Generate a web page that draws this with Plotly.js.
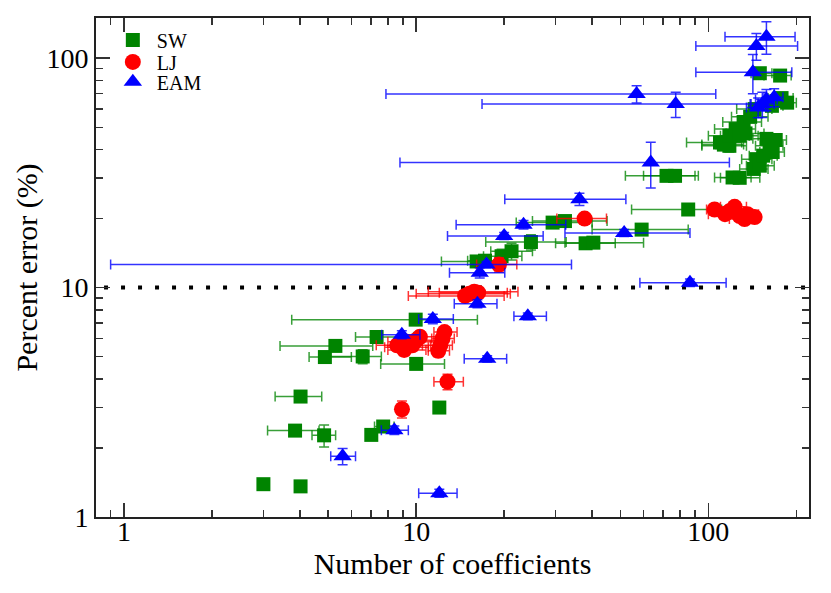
<!DOCTYPE html>
<html>
<head>
<meta charset="utf-8">
<script src="https://cdn.plot.ly/plotly-3.0.1.min.js"></script>
<style>
  html, body { margin: 0; padding: 0; background: #fff; }
  #chart { width: 831px; height: 593px; }
</style>
</head>
<body>
<div id="chart"></div>
<script>
// SW (Stillinger-Weber) points: x, y, x-range low/high, y half error
const swX   = [3.0, 4.02, 3.85, 4.84, 7.02, 7.71, 4.02, 12.0, 4.87, 6.56, 5.29, 7.32, 10.0, 9.96, 16.1, 17.2, 19.6, 21.2, 24.7, 29.3, 32.3, 38.0, 40.4, 59.1, 85.3, 71.9, 76.9, 109.6, 118, 121, 128, 113, 118, 124, 132, 139, 144, 128, 134, 143, 146, 150, 154, 158, 162, 166, 170, 171, 178, 186, 176, 150, 165];
const swY   = [1.39, 1.36, 2.38, 2.27, 2.28, 2.48, 3.35, 3.0, 4.98, 5.01, 5.57, 6.09, 4.65, 7.25, 13.0, 13.1, 13.7, 14.4, 15.8, 19.2, 19.5, 15.6, 15.7, 17.9, 21.9, 30.7, 30.7, 42.9, 41.5, 30.2, 30.1, 42, 45.9, 49.1, 52.7, 55.5, 60, 45.9, 47, 32.9, 36.3, 34, 37.6, 44.5, 41.5, 39, 44, 65, 67, 64, 84, 86, 62];
const swXlo = [null, null, 3.1, 4.4, null, 7.2, 3.29, null, 4.3, 5.0, 3.42, 6.2, 7.56, 3.75, 12.2, 15.0, 17.0, 18.0, 17.3, 22.0, 25.0, 30.0, 32.3, 40.0, 54.6, 52.0, 60, 84.2, 95, 105, 110, 95, 100, 105, 112, 120, 125, 110, 115, 128, 130, 135, 138, 142, 145, 150, 152, 155, 160, 168, 155, 140, 150];
const swXhi = [null, null, 4.65, 5.3, null, 8.4, 4.75, null, 6.0, 7.6, 7.1, 9.8, 12.5, 16.2, 19.0, 20.0, 23.0, 25.0, 32.6, 40.0, 45.0, 48.0, 60.0, 85.3, 111, 92.4, 90, 130, 135, 140, 150, 132, 138, 145, 152, 160, 165, 148, 155, 160, 165, 168, 172, 176, 180, 182, 185, 190, 195, 200, 192, 165, 180];
const swYerr = [0.05, 0.05, 0.1, 0.25, 0.08, 0.12, 0.08, 0.08, 0.12, 0.35, 0.15, 0.15, 0.15, 0.2, 0.6, 0.8, 1.0, 1.2, 1.2, 0.6, 0.6, 0.4, 0.4, 0.5, 0.6, 1.5, 1.0, 2.5, 2.5, 1.5, 1.5, 2, 2.5, 2.5, 3, 3, 3, 2.5, 2.5, 1.5, 1.8, 1.8, 2, 2.5, 2.5, 2, 2.5, 3, 3, 3, 3, 3, 3];

// LJ (Lennard-Jones) points
const ljX   = [8.94, 12.8, 8.6, 9.0, 9.3, 9.7, 10.0, 10.3, 9.1, 11.9, 12.1, 12.3, 12.5, 14.7, 15.2, 15.8, 16.3, 19.2, 37.7, 105, 114, 123, 133, 136, 144, 118, 128];
const ljY   = [2.95, 3.89, 5.6, 5.5, 5.8, 5.6, 5.9, 6.1, 5.35, 5.3, 5.6, 6.0, 6.4, 9.2, 9.4, 9.6, 9.5, 12.6, 20.0, 21.9, 20.9, 22.5, 19.9, 20.9, 20.3, 21.5, 20.5];
const ljXlo = [null, 11.5, 7.3, 7.8, 8.0, 8.3, 8.6, 9.0, 8.0, 11.0, 11.2, 11.3, 11.5, 9.4, 10.0, 11.0, 12.0, 16.1, 30.3, 98.6, 100, 110, 118, 122, 130, 104, 115];
const ljXhi = [null, 14.5, 10.5, 11.0, 11.5, 11.8, 12.0, 12.5, 10.8, 13.0, 13.3, 13.5, 13.8, 20.0, 21.0, 22.3, 20.5, 22.1, 44.8, 115, 128, 135, 145, 148.5, 148.5, 132, 140];
const ljYerr = [0.25, 0.3, 0.3, 0.3, 0.3, 0.3, 0.35, 0.35, 0.3, 0.3, 0.3, 0.35, 0.35, 0.3, 0.3, 0.3, 0.3, 0.9, 0.8, 0.6, 0.6, 0.6, 0.6, 0.6, 0.6, 0.6, 0.6];

// EAM (embedded atom) points
const eamX   = [12.0, 5.6, 8.42, 17.5, 8.93, 11.4, 24.1, 16.2, 16.5, 17.4, 20.0, 23.3, 36.2, 51.5, 86.5, 63.5, 56.8, 77.3, 142, 146, 158, 153, 158, 168, 148];
const eamY   = [1.27, 1.84, 2.39, 4.89, 6.23, 7.3, 7.5, 8.51, 11.6, 12.6, 16.8, 18.8, 24.3, 17.3, 10.5, 35.1, 69.8, 63.1, 86.9, 113, 124, 63.1, 66, 67.5, 61];
const eamXlo = [10.2, 5.1, 7.6, 14.6, 7.62, 10.2, 21.6, 13.5, 13.0, 0.90, 12.8, 13.7, 20.1, 32.3, 58.3, 8.8, 7.88, 16.8, 90.6, 90.6, 114, 140, 145, 155, 135];
const eamXhi = [13.8, 6.2, 9.4, 20.4, 10.3, 13.4, 27.9, 18.9, 20.1, 34.0, 27.2, 32.5, 52.2, 86.5, 115, 118, 106, 139, 193, 202, 198, 168, 172, 180, 160];
const eamYerr = [0.05, 0.15, 0.1, 0.15, 0.25, 0.35, 0.25, 0.35, 0.6, 0.4, 0.6, 0.8, 1.5, 0.6, 0.4, 7.9, 6, 8, 17, 15, 20, 8, 7, 6, 6];

const xTicks = [1, 10, 100];
const yTicks = [1, 10, 100];
const xMinor = [0.9, 2, 3, 4, 5, 6, 7, 8, 9, 20, 30, 40, 50, 60, 70, 80, 90, 200];
const yMinor = [2, 3, 4, 5, 6, 7, 8, 9, 20, 30, 40, 50, 60, 70, 80, 90];
const threshold = 10;

function errPlus(x, hi) {
    return x.map((v, i) => hi[i] == null ? NaN : hi[i] - v);
}
function errMinus(x, lo) {
    return x.map((v, i) => lo[i] == null ? NaN : v - lo[i]);
}

function makeTrace(name, legendId, x, y, lo, hi, yerr, color, barColor, symbol, size) {
    return {
        x: x, y: y, name: name, legend: legendId,
        type: "scatter", mode: "markers",
        marker: { color: color, symbol: symbol, size: size, line: { width: 0 } },
        error_x: { type: "data", symmetric: false, array: errPlus(x, hi), arrayminus: errMinus(x, lo),
                   color: barColor, thickness: 1.5, width: 5 },
        error_y: { type: "data", array: yerr, color: barColor, thickness: 1.5, width: 5 }
    };
}

const lineTrace = {
    x: [0.5, 400], y: [threshold, threshold],
    type: "scatter", mode: "lines", showlegend: false, hoverinfo: "skip",
    line: { color: "black", width: 4, dash: "4px,13px" }
};

const traces = [
    lineTrace,
    makeTrace("SW", "legend", swX, swY, swXlo, swXhi, swYerr, "#008400", "rgba(0,132,0,0.78)", "square", 14),
    makeTrace("LJ", "legend2", ljX, ljY, ljXlo, ljXhi, ljYerr, "#ff0000", "rgba(255,0,0,0.8)", "circle", 16),
    makeTrace("EAM", "legend3", eamX, eamY, eamXlo, eamXhi, eamYerr, "#0000ff", "rgba(0,0,255,0.8)", "triangle-up", 16)
];

const SERIF = "'Liberation Serif', serif";

function logAxis(range, ticks, minor, title, standoff, labelShift) {
    return {
        type: "log", range: range,
        tickmode: "array", tickvals: ticks, ticktext: ticks.map(String),
        ticks: "inside", ticklen: 14, tickwidth: 1.5, tickcolor: "#333",
        ticklabelstandoff: labelShift,
        minor: { ticks: "inside", ticklen: 7, tickwidth: 1.5, tickcolor: "#333", tickvals: minor },
        showline: true, linecolor: "#222", linewidth: 2, mirror: "allticks",
        showgrid: false, zeroline: false,
        tickfont: { family: SERIF, size: 28, color: "black" },
        title: { text: title, font: { family: SERIF, size: 30, color: "black" }, standoff: standoff },
        automargin: false
    };
}

function legendBox(yPaper) {
    return {
        x: 0.018, y: yPaper, xanchor: "left", yanchor: "middle",
        bgcolor: "rgba(0,0,0,0)", borderwidth: 0,
        font: { family: SERIF, size: 20, color: "black" },
        itemsizing: "trace", itemwidth: 38
    };
}

const layout = {
    width: 831, height: 593,
    margin: { l: 96, r: 22, t: 18, b: 76 },
    paper_bgcolor: "white", plot_bgcolor: "white",
    font: { family: SERIF, size: 26, color: "black" },
    showlegend: true,
    legend: legendBox(0.956),
    legend2: legendBox(0.912),
    legend3: legendBox(0.872),
    xaxis: logAxis([Math.log10(0.802), Math.log10(221)], xTicks, xMinor, "Number of coefficients", 0, -12),
    yaxis: logAxis([0, Math.log10(149.7)], yTicks, yMinor, "Percent error (%)", 0, 0)
};

Plotly.newPlot("chart", traces, layout, { staticPlot: true, displayModeBar: false });
</script>
</body>
</html>
